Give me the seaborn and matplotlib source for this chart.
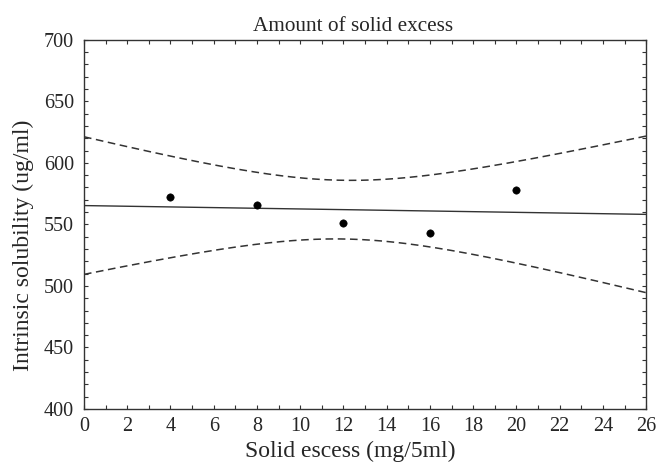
import numpy as np
import pandas as pd
import matplotlib
matplotlib.use("Agg")
import matplotlib.pyplot as plt
import seaborn as sns
from matplotlib.ticker import MultipleLocator

# measured points
solid_excess = [4, 8, 12, 16, 20]
solubility = [572, 566, 551, 543, 578]

sns.set_style("ticks")
plt.rcParams['font.family'] = ['Liberation Serif', 'DejaVu Serif']

df = pd.DataFrame({"x": solid_excess, "y": solubility})

# linear fit with 95% confidence band of the mean
x = np.array(solid_excess, dtype=float)
y = np.array(solubility, dtype=float)
n = len(x)
slope, intercept = np.polyfit(x, y, 1)
resid = y - (intercept + slope * x)
s = np.sqrt(np.sum(resid ** 2) / (n - 2))
sxx = np.sum((x - x.mean()) ** 2)
t_crit = 3.182  # t(0.975, df=3)

xg = np.linspace(0, 26, 200)
yfit = intercept + slope * xg
half = t_crit * s * np.sqrt(1.0 / n + (xg - x.mean()) ** 2 / sxx)
band = pd.DataFrame({"x": xg, "fit": yfit, "upper": yfit + half, "lower": yfit - half})

fig, ax = plt.subplots(figsize=(6.56, 4.68), dpi=100)
fig.subplots_adjust(left=0.128, right=0.985, bottom=0.126, top=0.915)

sns.lineplot(data=band, x="x", y="fit", ax=ax, color="#333333", lw=1.0)
sns.lineplot(data=band, x="x", y="upper", ax=ax, color="#333333", lw=1.1,
             linestyle=(0, (5, 3)))
sns.lineplot(data=band, x="x", y="lower", ax=ax, color="#333333", lw=1.1,
             linestyle=(0, (5, 3)))
sns.scatterplot(data=df, x="x", y="y", ax=ax, color="black", s=28,
                edgecolor="black", zorder=5)

ax.set_xlim(0, 26)
ax.set_ylim(400, 700)
ax.xaxis.set_major_locator(MultipleLocator(2))
ax.xaxis.set_minor_locator(MultipleLocator(1))
ax.yaxis.set_major_locator(MultipleLocator(50))
ax.yaxis.set_minor_locator(MultipleLocator(10))
ax.tick_params(which="both", direction="in", top=True, right=True,
               length=3, width=0.8, color="#333333")
ax.tick_params(which="major", labelsize=14.5)
ax.tick_params(axis="x", which="major", pad=6)
ax.tick_params(axis="y", which="major", pad=7)
for sp in ax.spines.values():
    sp.set_linewidth(1.0)
    sp.set_color("#333333")

ax.set_title("Amount of solid excess", fontsize=15.3, pad=6, x=0.479)
ax.set_xlabel("Solid escess (mg/5ml)", fontsize=17, labelpad=2)
ax.set_ylabel("Intrinsic solubility (ug/ml)", fontsize=17, labelpad=7)
ax.xaxis.set_label_coords(0.474, -0.085)
ax.yaxis.label.set_y(0.444)

fig.savefig("out.png", dpi=100)
